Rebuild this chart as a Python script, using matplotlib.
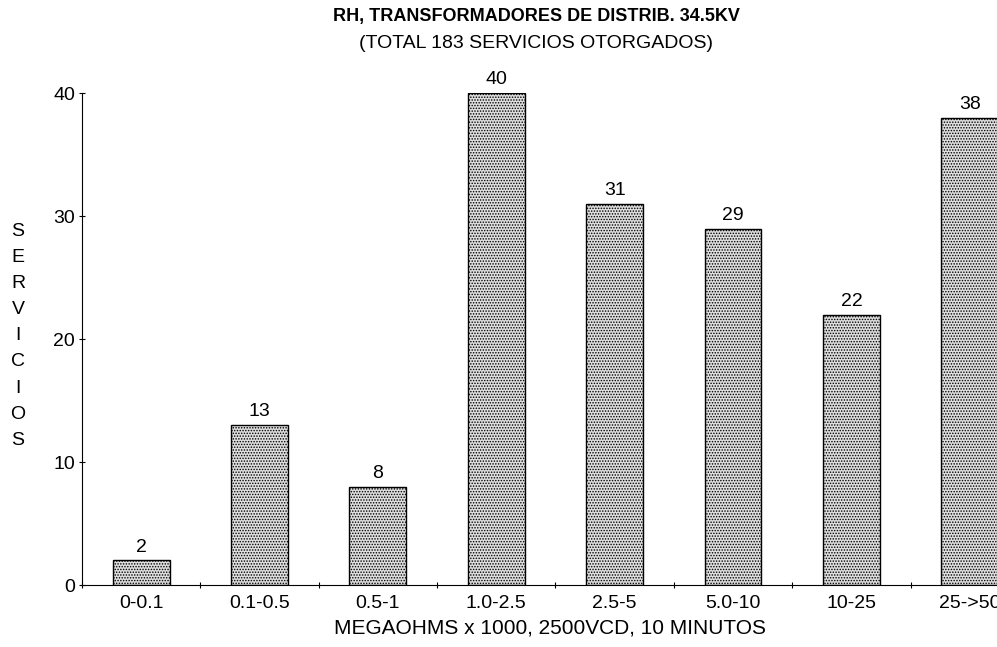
import matplotlib
matplotlib.use("Agg")
import matplotlib.pyplot as plt

categories = ["0-0.1", "0.1-0.5", "0.5-1", "1.0-2.5", "2.5-5", "5.0-10", "10-25", "25->50"]
values = [2, 13, 8, 40, 31, 29, 22, 38]
yticks = [0, 10, 20, 30, 40]

plt.rcParams['font.family'] = ["Liberation Sans", "DejaVu Sans"]
plt.rcParams['hatch.color'] = '#4a4a4a'
plt.rcParams['hatch.linewidth'] = 0.7

fig = plt.figure(figsize=(9.97, 6.47), dpi=100)
ax = fig.add_axes([0.0822, 0.0958, 0.9178, 0.760])

x = list(range(len(categories)))
ax.bar(x, values, width=0.48, color='#dedede', edgecolor='black',
       linewidth=1.0, hatch='......')
for xi, v in zip(x, values):
    ax.text(xi, v + 0.4, str(v), ha='center', va='bottom', fontsize=14, clip_on=False)

ax.set_xlim(-0.49, 7.23)
ax.set_ylim(0, 40)
ax.set_xticks(x)
ax.set_xticklabels(categories, fontsize=14)
ax.set_xticks([i + 0.5 for i in range(-1, 7)], minor=True)
ax.set_yticks(yticks)
ax.set_yticklabels([str(t) for t in yticks], fontsize=14)
ax.tick_params(axis='x', which='major', length=0, pad=7)
ax.tick_params(axis='x', which='minor', length=4, direction='inout', width=0.8)
ax.tick_params(axis='y', length=4, direction='inout', width=0.8, pad=3)
for s in ['top', 'right']:
    ax.spines[s].set_visible(False)
ax.spines['left'].set_linewidth(0.8)
ax.spines['bottom'].set_linewidth(0.8)

fig.text(0.538, 1 - 17 / 647, "RH, TRANSFORMADORES DE DISTRIB. 34.5KV", ha='center', va='center',
         fontsize=13, fontweight='bold')
fig.text(0.538, 1 - 44 / 647, "(TOTAL 183 SERVICIOS OTORGADOS)", ha='center', va='center', fontsize=14)
fig.text(0.552, 1 - 628 / 647, "MEGAOHMS x 1000, 2500VCD, 10 MINUTOS", ha='center', va='center',
         fontsize=15)

label = "SERVICIOS"
for i, ch in enumerate(label):
    fig.text(0.018, 1 - (231 + i * 26.2) / 647, ch, ha='center', va='center', fontsize=14)

fig.savefig("out.png", dpi=100)
